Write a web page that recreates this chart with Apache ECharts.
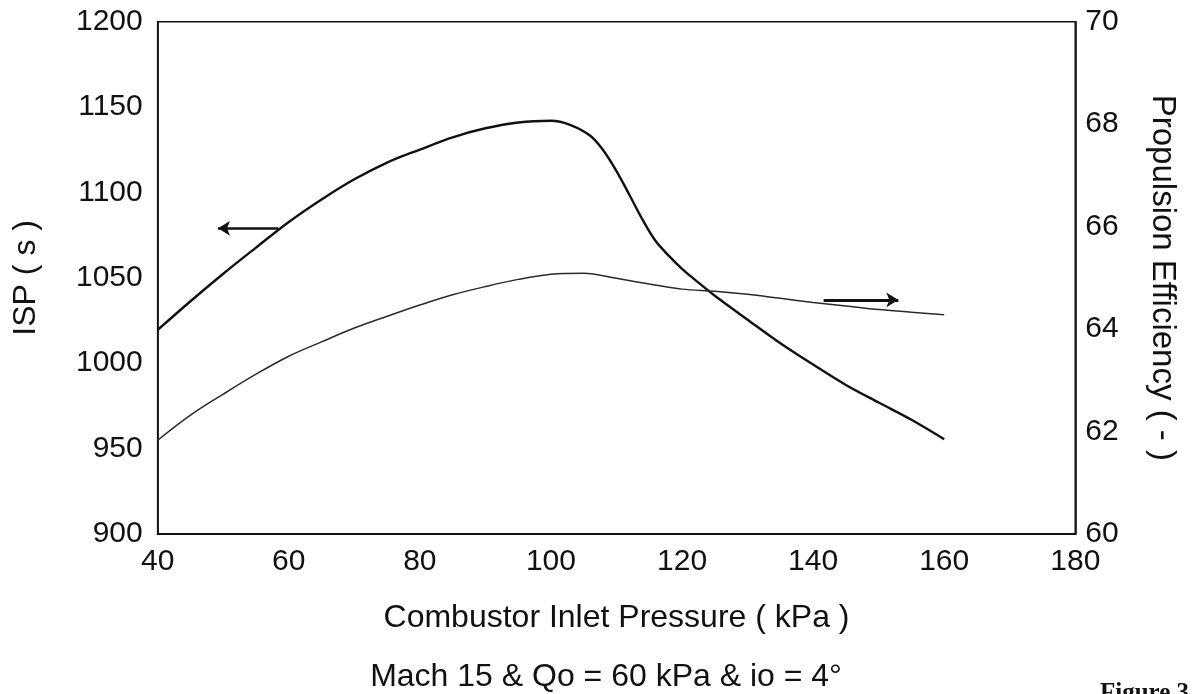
<!DOCTYPE html>
<html>
<head>
<meta charset="utf-8">
<script src="https://cdn.jsdelivr.net/npm/echarts@6/dist/echarts.min.js"></script>
<style>
  html, body { margin: 0; padding: 0; background: #fff; }
  #chart { width: 1192px; height: 694px; }
</style>
</head>
<body>
<div id="chart"></div>
<script>
// ISP (left axis) vs combustor inlet pressure
const pressureIsp = [40, 45, 50, 55, 60, 65, 70, 75, 80, 85, 90, 95, 100, 103, 106, 108, 110, 112, 114, 116, 118, 120, 122, 125, 130, 135, 140, 145, 150, 155, 160];
const ispValues = [1019.5, 1036.3, 1052.4, 1067.7, 1082.7, 1095.9, 1107.7, 1117.5, 1125.1, 1132.3, 1137.6, 1141, 1142, 1139.5, 1133.2, 1124.6, 1112.5, 1098.4, 1083.9, 1071.4, 1062.9, 1055.3, 1048.8, 1039.5, 1025.5, 1011.7, 999.2, 987.3, 977, 966.9, 955.5];

// propulsion efficiency (right axis)
const pressureEff = [40, 45, 50, 55, 60, 65, 70, 75, 80, 85, 90, 95, 100, 105, 110, 115, 120, 125, 130, 135, 140, 145, 150, 155, 160];
const effValues = [61.83, 62.32, 62.73, 63.12, 63.47, 63.75, 64.02, 64.25, 64.47, 64.67, 64.83, 64.97, 65.07, 65.09, 64.99, 64.88, 64.78, 64.74, 64.68, 64.6, 64.52, 64.45, 64.38, 64.33, 64.28];

// arrow annotations: [fromX, toX, y]
const ispArrow = [58.4, 49.2, 1079];
const effArrow = [141.6, 153.0, 64.57];

const xTicks = [40, 180, 20];
const captionText = 'Mach 15 & Qo = 60 kPa & io = 4°';
const figureText = 'Figure 3';

const font = '"Liberation Sans", Arial, Helvetica, sans-serif';
const ink = '#111';

const chart = echarts.init(document.getElementById('chart'), null, { renderer: 'canvas' });

const axisText = { color: ink, fontSize: 30, fontFamily: font, formatter: v => String(v) };

const option = {
  backgroundColor: '#fff',
  animation: false,
  title: [
    {
      text: captionText,
      left: 601, top: 656, textAlign: 'center',
      textStyle: { color: ink, fontSize: 32, fontWeight: 'normal', fontFamily: font }
    },
    {
      text: figureText,
      left: 1095, top: 676,
      textStyle: { color: ink, fontSize: 25, fontWeight: 'bold', fontFamily: '"Liberation Serif", "DejaVu Serif", serif' }
    }
  ],
  grid: {
    left: 157.7, right: 116.7, top: 21.7, bottom: 160,
    show: true, borderColor: ink, borderWidth: 1.6, backgroundColor: 'transparent'
  },
  xAxis: {
    type: 'value',
    min: xTicks[0], max: xTicks[1], interval: xTicks[2],
    name: 'Combustor Inlet Pressure ( kPa )',
    nameLocation: 'middle', nameGap: 68,
    nameTextStyle: { color: ink, fontSize: 32, fontFamily: font },
    axisLine: { show: true, lineStyle: { color: ink, width: 2 } },
    axisTick: { show: false },
    axisLabel: Object.assign({ margin: 13 }, axisText),
    splitLine: { show: false }
  },
  yAxis: [
    {
      type: 'value',
      min: 900, max: 1200, interval: 50,
      name: 'ISP ( s )',
      nameLocation: 'middle', nameGap: 116, nameRotate: 90,
      nameTextStyle: { color: ink, fontSize: 32, fontFamily: font },
      axisLine: { show: true, lineStyle: { color: ink, width: 1.6 } },
      axisTick: { show: false },
      axisLabel: Object.assign({ margin: 15 }, axisText),
      splitLine: { show: false }
    },
    {
      type: 'value',
      position: 'right',
      min: 60, max: 70, interval: 2,
      name: 'Propulsion Efficiency ( - )',
      nameLocation: 'middle', nameGap: 70, nameRotate: -90,
      nameTextStyle: { color: ink, fontSize: 33, fontFamily: font },
      axisLine: { show: true, lineStyle: { color: ink, width: 1.6 } },
      axisTick: { show: false },
      axisLabel: Object.assign({ margin: 10 }, axisText),
      splitLine: { show: false }
    }
  ],
  series: [
    {
      name: 'ISP',
      type: 'line',
      yAxisIndex: 0,
      data: pressureIsp.map((p, i) => [p, ispValues[i]]),
      smooth: 0.35,
      showSymbol: false,
      lineStyle: { color: ink, width: 2.4 },
      markLine: {
        silent: true,
        symbol: ['none', 'arrow'],
        symbolSize: [11, 12],
        label: { show: false },
        lineStyle: { color: ink, width: 2.6, type: 'solid' },
        data: [[{ coord: [ispArrow[0], ispArrow[2]] }, { coord: [ispArrow[1], ispArrow[2]] }]]
      }
    },
    {
      name: 'Propulsion Efficiency',
      type: 'line',
      yAxisIndex: 1,
      data: pressureEff.map((p, i) => [p, effValues[i]]),
      smooth: 0.35,
      showSymbol: false,
      lineStyle: { color: '#2a2a2a', width: 1.5 },
      markLine: {
        silent: true,
        symbol: ['none', 'arrow'],
        symbolSize: [11, 12],
        label: { show: false },
        lineStyle: { color: ink, width: 2.8, type: 'solid' },
        data: [[{ coord: [effArrow[0], effArrow[2]] }, { coord: [effArrow[1], effArrow[2]] }]]
      }
    }
  ]
};

chart.setOption(option);
</script>
</body>
</html>
